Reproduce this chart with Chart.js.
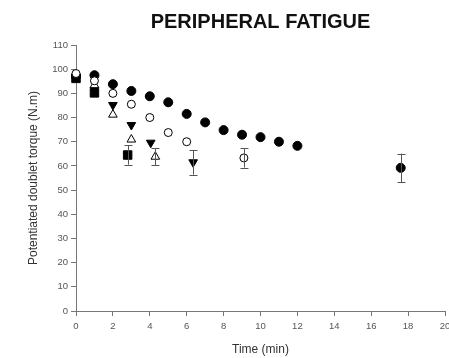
<!DOCTYPE html>
<html>
<head>
<meta charset="utf-8">
<script src="https://cdn.jsdelivr.net/npm/chart.js@4/dist/chart.umd.min.js"></script>
<style>
  html, body { margin: 0; padding: 0; background: #fff; }
  canvas { display: block; }
</style>
</head>
<body>
<canvas id="fatiga" width="449" height="358"></canvas>
<script>
// datos (tiempo en min, torque en N.m)
const filledCircleTime = [0, 1, 2, 3, 4, 5, 6, 7, 8, 9, 10, 11, 12, 17.6];
const filledCircleTorque = [97, 97.5, 93.8, 91, 88.8, 86.3, 81.5, 78, 74.8, 72.9, 71.9, 70, 68.3, 59.2];
const filledCircleErr = [null, null, null, null, null, null, null, null, null, null, null, null, null, 5.9];

const openCircleTime = [0, 1, 2, 3, 4, 5, 6, 9.1];
const openCircleTorque = [98.2, 95.2, 90, 85.5, 80, 73.8, 70, 63.3];
const openCircleErr = [null, null, null, null, null, null, null, 4];

const downTriTime = [0, 1, 2, 3, 4.05, 6.35];
const downTriTorque = [97, 91.5, 85.2, 76.9, 69.6, 61.5];
const downTriErr = [null, null, null, null, null, 5.1];

const upTriTime = [0, 1, 2, 3, 4.3];
const upTriTorque = [97.5, 93.4, 81.2, 70.9, 63.8];
const upTriErr = [null, null, null, null, 3.5];

const squareTime = [0, 1, 2.8];
const squareTorque = [96.2, 90.2, 64.5];
const squareErr = [null, null, 4];

const xTicks = [0, 2, 4, 6, 8, 10, 12, 14, 16, 18, 20];
const yTicks = [0, 10, 20, 30, 40, 50, 60, 70, 80, 90, 100, 110];

function puntos(xs, ys) {
  return xs.map((x, i) => ({ x: x, y: ys[i] }));
}

// barras de error dibujadas con las escalas del grafico
const barrasError = {
  id: 'barrasError',
  afterDatasetsDraw(chart) {
    const ctx = chart.ctx;
    const xs = chart.scales.x, ys = chart.scales.y;
    ctx.save();
    ctx.strokeStyle = '#555';
    ctx.lineWidth = 1;
    chart.data.datasets.forEach(ds => {
      ds.data.forEach((p, i) => {
        const e = ds.errores[i];
        if (e == null) return;
        const px = Math.round(xs.getPixelForValue(p.x)) + 0.5;
        const top = ys.getPixelForValue(p.y + e);
        const bot = ys.getPixelForValue(p.y - e);
        ctx.beginPath();
        ctx.moveTo(px, top); ctx.lineTo(px, bot);
        ctx.moveTo(px - 4, Math.round(top) + 0.5); ctx.lineTo(px + 4, Math.round(top) + 0.5);
        ctx.moveTo(px - 4, Math.round(bot) + 0.5); ctx.lineTo(px + 4, Math.round(bot) + 0.5);
        ctx.stroke();
      });
    });
    ctx.restore();
  }
};

const canvas = document.getElementById('fatiga');
const ctx = canvas.getContext('2d');

new Chart(ctx, {
  type: 'scatter',
  data: {
    datasets: [
      {
        data: puntos(openCircleTime, openCircleTorque), errores: openCircleErr,
        pointStyle: 'circle', pointRadius: 4, backgroundColor: '#fff', borderColor: '#000', borderWidth: 1
      },
      {
        data: puntos(filledCircleTime, filledCircleTorque), errores: filledCircleErr,
        pointStyle: 'circle', pointRadius: 4.5, backgroundColor: '#000', borderColor: '#000', borderWidth: 1
      },
      {
        data: puntos(upTriTime, upTriTorque), errores: upTriErr,
        pointStyle: 'triangle', pointRadius: 5, backgroundColor: '#fff', borderColor: '#000', borderWidth: 1
      },
      {
        data: puntos(squareTime, squareTorque), errores: squareErr,
        pointStyle: 'rect', pointRadius: 6, backgroundColor: '#000', borderColor: '#000', borderWidth: 1
      },
      {
        data: puntos(downTriTime, downTriTorque), errores: downTriErr,
        pointStyle: 'triangle', rotation: 180, pointRadius: 5, backgroundColor: '#000', borderColor: '#000', borderWidth: 1
      }
    ]
  },
  options: {
    responsive: false,
    animation: false,
    layout: { autoPadding: false, padding: { top: 0, right: 4, bottom: 0, left: 0 } },
    elements: { point: { hoverRadius: 5 } },
    datasets: { scatter: { clip: false } },
    scales: {
      x: {
        type: 'linear',
        min: 0, max: 20,
        afterBuildTicks: s => { s.ticks = xTicks.map(v => ({ value: v })); },
        afterFit: s => { s.height = 47; s.paddingLeft = 0; s.paddingRight = 0; },
        ticks: { color: '#555', font: { family: 'Arial', size: 9.5 }, padding: 5, maxRotation: 0 },
        grid: { drawOnChartArea: false, tickLength: 5, color: '#777' },
        border: { color: '#777' },
        title: {
          display: true, text: 'Time (min)', color: '#333',
          font: { family: 'Arial', size: 12 }, padding: { top: 0, bottom: 1 }
        }
      },
      y: {
        type: 'linear',
        min: 0, max: 110,
        afterBuildTicks: s => { s.ticks = yTicks.map(v => ({ value: v })); },
        afterFit: s => { s.width = 76; s.paddingTop = 0; s.paddingBottom = 0; },
        ticks: { color: '#555', font: { family: 'Arial', size: 9.5 }, padding: 3 },
        grid: { drawOnChartArea: false, tickLength: 5, color: '#777' },
        border: { color: '#777' },
        title: {
          display: true, text: 'Potentiated doublet torque (N.m)', color: '#333',
          font: { family: 'Arial', size: 12 }, padding: { top: 26, bottom: 0 }
        }
      }
    },
    plugins: {
      legend: { display: false },
      tooltip: { enabled: false },
      title: {
        display: true,
        fullSize: false,
        text: 'PERIPHERAL FATIGUE',
        color: '#111',
        font: { family: 'Arial', size: 20, weight: 'bold' },
        padding: { top: 10, bottom: 11 }
      }
    }
  },
  plugins: [barrasError]
});
</script>
</body>
</html>
